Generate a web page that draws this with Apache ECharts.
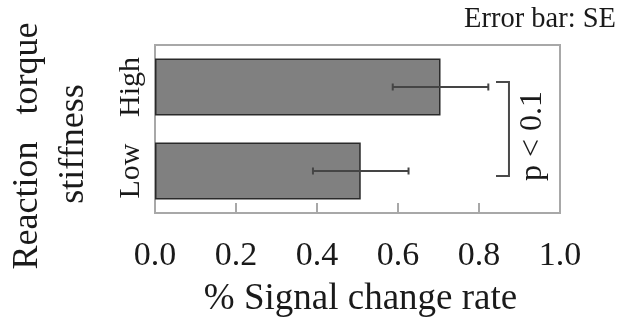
<!DOCTYPE html>
<html>
<head>
<meta charset="utf-8">
<script src="https://cdn.jsdelivr.net/npm/echarts@6/dist/echarts.min.js"></script>
<style>html,body{margin:0;padding:0;background:#fff}#c{width:622px;height:329px}</style>
</head>
<body>
<div id="c"></div>
<script>
var categories = ['High', 'Low'];
var means = [0.705, 0.508];
var errors = [0.118, 0.118];
var xTicks = [0, 0.2, 0.4, 0.6, 0.8, 1.0];
var bracketX = [0.842, 0.874];
var xName = '% Signal change rate';
var yNameLines = ['Reaction   torque', 'stiffness'];
var note = 'Error bar: SE';
var sigText = 'p < 0.1';

var FONT = '"Liberation Serif", "Times New Roman", serif';
var TXT = '#1a1a1a';

var chart = echarts.init(document.getElementById('c'), null, {renderer: 'canvas'});

var errData = categories.map(function (c, i) { return [means[i] - errors[i], means[i] + errors[i], i]; });

chart.setOption({
  animation: false,
  grid: {left: 155, top: 45, width: 405, height: 168, show: true, borderColor: '#a8a8a8', borderWidth: 2, backgroundColor: 'transparent'},
  xAxis: {
    type: 'value', min: xTicks[0], max: xTicks[xTicks.length - 1], interval: 0.2,
    axisLine: {show: true, lineStyle: {color: '#a8a8a8', width: 2}},
    axisTick: {show: true, inside: true, length: 10, lineStyle: {color: '#a8a8a8', width: 2}},
    splitLine: {show: false},
    axisLabel: {fontFamily: FONT, fontSize: 34, color: TXT, margin: 26, formatter: function (v) { return v.toFixed(1); }},
    name: xName, nameLocation: 'middle', nameGap: 68,
    nameTextStyle: {fontFamily: FONT, fontSize: 37, color: TXT, padding: [0, 0, 0, 6]}
  },
  yAxis: {
    type: 'category', data: categories, inverse: true,
    axisLine: {show: false}, axisTick: {show: false}, splitLine: {show: false},
    axisLabel: {rotate: 90, fontFamily: FONT, fontSize: 30, color: TXT, margin: 9}
  },
  series: [
    {
      type: 'bar', data: means, barCategoryGap: '32%',
      itemStyle: {color: '#808080', borderColor: '#2a2a2a', borderWidth: 1.5},
      z: 2
    },
    {
      type: 'custom', data: errData, z: 3,
      renderItem: function (params, api) {
        var lo = api.coord([api.value(0), api.value(2)]);
        var hi = api.coord([api.value(1), api.value(2)]);
        var h = 3.5;
        var st = {stroke: '#454545', lineWidth: 2};
        return {type: 'group', children: [
          {type: 'line', shape: {x1: lo[0], y1: lo[1], x2: hi[0], y2: hi[1]}, style: st},
          {type: 'line', shape: {x1: lo[0], y1: lo[1] - h, x2: lo[0], y2: lo[1] + h}, style: st},
          {type: 'line', shape: {x1: hi[0], y1: hi[1] - h, x2: hi[0], y2: hi[1] + h}, style: st}
        ]};
      }
    },
    {
      type: 'custom', data: [[bracketX[0], bracketX[1], 0, 1]], z: 3,
      renderItem: function (params, api) {
        var a = api.coord([api.value(0), api.value(2)]);
        var b = api.coord([api.value(1), api.value(3)]);
        var y1 = a[1] - 5, y2 = b[1] + 5;
        return {type: 'group', children: [
          {type: 'polyline', shape: {points: [[a[0], y1], [b[0], y1], [b[0], y2], [a[0], y2]]}, style: {stroke: '#4a4a4a', lineWidth: 2, fill: null}},
          {type: 'text', x: b[0] + 24, y: (y1 + y2) / 2 + 7, rotation: Math.PI / 2,
           style: {text: sigText, font: '32px ' + FONT, fill: TXT, align: 'center', verticalAlign: 'middle'}}
        ]};
      }
    }
  ],
  graphic: [
    {type: 'text', x: 28, y: 146, rotation: Math.PI / 2,
     style: {text: yNameLines[0], font: '36px ' + FONT, fill: TXT, align: 'center', verticalAlign: 'middle'}},
    {type: 'text', x: 74, y: 144, rotation: Math.PI / 2,
     style: {text: yNameLines[1], font: '36px ' + FONT, fill: TXT, align: 'center', verticalAlign: 'middle'}},
    {type: 'text', right: 6, top: 5,
     style: {text: note, font: '28.5px ' + FONT, fill: TXT}}
  ]
});
</script>
</body>
</html>
